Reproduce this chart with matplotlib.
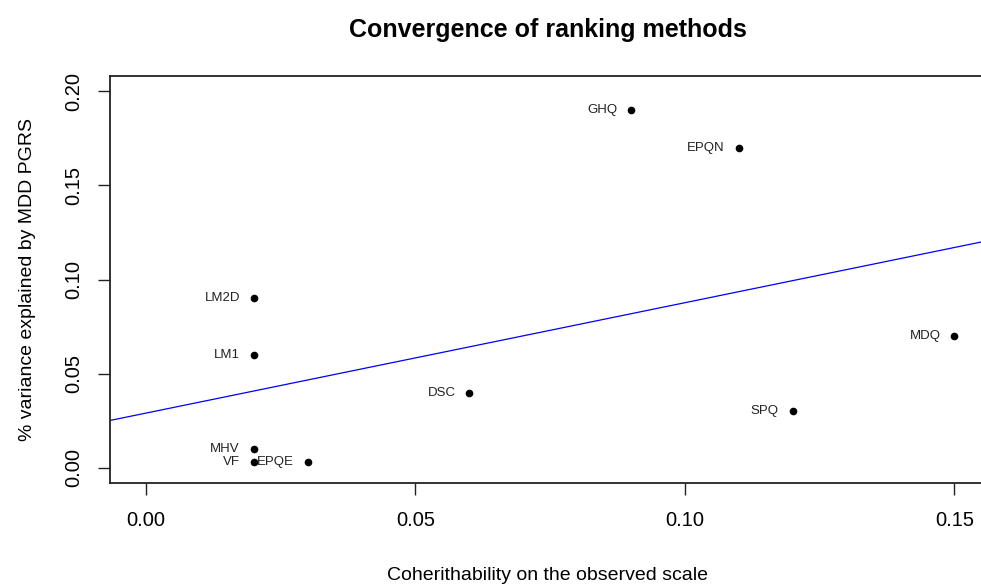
import numpy as np
import matplotlib
matplotlib.use('Agg')
import matplotlib.pyplot as plt
from matplotlib.ticker import FormatStrFormatter

# dados
methods = ['GHQ', 'EPQN', 'LM2D', 'LM1', 'DSC', 'MDQ', 'SPQ', 'MHV', 'VF', 'EPQE']
coherit = [0.09, 0.11, 0.02, 0.02, 0.06, 0.15, 0.12, 0.02, 0.02, 0.03]
var_expl = [0.19, 0.17, 0.09, 0.06, 0.04, 0.07, 0.03, 0.01, 0.003, 0.003]

x_ticks = [0.00, 0.05, 0.10, 0.15]
y_ticks = [0.00, 0.05, 0.10, 0.15, 0.20]

plt.rcParams['font.family'] = ['Liberation Sans', 'DejaVu Sans']

W, H = 981, 584
fig = plt.figure(figsize=(W / 100, H / 100), dpi=100)
# eixo posicionado em pixels como no original (a borda direita passa do limite da imagem)
ax = fig.add_axes([110 / W, 1 - 483 / H, (985 - 110) / W, (483 - 76) / H])

ax.plot(coherit, var_expl, 'o', color='black', markersize=4.5)
for name, xv, yv in zip(methods, coherit, var_expl):
    ax.annotate(name, (xv, yv), xytext=(-10, 0), textcoords='offset points',
                ha='right', va='center', fontsize=9.5, color='#222222')

# reta de regressao (abline(lm(y ~ x)))
slope, intercept = np.polyfit(coherit, var_expl, 1)
ax.axline((0, intercept), slope=slope, color='blue', linewidth=0.9)

# limites no estilo R (folga nas bordas)
ax.set_xlim(-0.0067, 0.1557)
ax.set_ylim(-0.008, 0.208)

ax.set_xticks(x_ticks)
ax.set_yticks(y_ticks)
ax.xaxis.set_major_formatter(FormatStrFormatter('%.2f'))
ax.yaxis.set_major_formatter(FormatStrFormatter('%.2f'))
ax.tick_params(axis='both', length=8.5, width=1, labelsize=14.5, color='#222222')
ax.tick_params(axis='x', pad=12)
ax.tick_params(axis='y', pad=11)
for lab in ax.get_yticklabels():
    lab.set_rotation(90)
    lab.set_va('center')

for sp in ax.spines.values():
    sp.set_linewidth(1.3)
    sp.set_color('#222222')

ax.set_xlabel('Coherithability on the observed scale', fontsize=14, labelpad=26)
ax.set_ylabel('% variance explained by MDD PGRS', fontsize=14, labelpad=20)
ax.set_title('Convergence of ranking methods', fontsize=18, fontweight='bold', pad=28)

fig.savefig('out.png', dpi=100)
